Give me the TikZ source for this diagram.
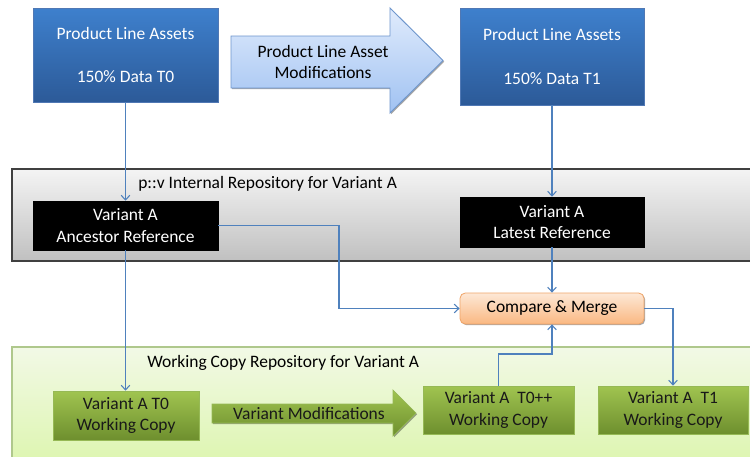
\documentclass[tikz,border=0pt]{standalone}
\usepackage{fontspec}
\setmainfont{Carlito}
\usetikzlibrary{arrows.meta,shadows}
\definecolor{cblue}{RGB}{79,129,189}
\definecolor{bluetop}{RGB}{62,128,205}
\definecolor{bluebot}{RGB}{44,90,152}
\definecolor{blueedge}{RGB}{80,120,180}
\definecolor{arrtop}{RGB}{224,235,252}
\definecolor{arrbot}{RGB}{160,194,242}
\definecolor{arredge}{RGB}{110,150,205}
\definecolor{graytop}{RGB}{244,244,244}
\definecolor{graybot}{RGB}{192,192,192}
\definecolor{grayedge}{RGB}{64,64,64}
\definecolor{orgtop}{RGB}{253,232,214}
\definecolor{orgbot}{RGB}{250,184,130}
\definecolor{orgedge}{RGB}{240,165,105}
\definecolor{gbandtop}{RGB}{242,249,230}
\definecolor{gbandbot}{RGB}{218,245,168}
\definecolor{gbandedge}{RGB}{175,200,140}
\definecolor{gtop}{RGB}{160,196,80}
\definecolor{gbot}{RGB}{110,143,46}
\definecolor{gedge}{RGB}{150,185,85}
\definecolor{gtext}{RGB}{25,25,25}
\begin{document}
\begin{tikzpicture}[x=0.75pt,y=-0.75pt,
  lbl/.style={font=\fontsize{13.1}{16}\selectfont, align=center, inner sep=0pt},
  shade1/.style={drop shadow={shadow xshift=0.9pt,shadow yshift=-0.9pt,opacity=0.35,fill=black}},
  bluebox/.style={lbl, draw=blueedge, line width=0.6pt, top color=bluetop, bottom color=bluebot, text=white, shade1},
  blackbox/.style={lbl, draw=black, fill=black, text=white, shade1},
  orgbox/.style={lbl, draw=orgedge, line width=0.6pt, rounded corners=4pt, top color=orgtop, bottom color=orgbot, text=black, shade1},
  greenbox/.style={lbl, draw=gedge, line width=0.5pt, top color=gtop, bottom color=gbot, text=gtext, shade1},
  bigarrow/.style={draw=arredge, line width=0.7pt, top color=arrtop, bottom color=arrbot, shade1},
  grarrow/.style={draw=gedge, line width=0.5pt, top color=gtop, bottom color=gbot, shade1},
  conn/.style={draw=cblue, line width=0.8pt, -{Straight Barb[length=3.5pt,width=6.5pt]}},
  connl/.style={draw=cblue, line width=0.8pt}
]
\useasboundingbox (0,0) rectangle (750,457);
\fill[white] (0,0) rectangle (750,457);
\begin{scope}
  \clip (0,0) rectangle (750,457);
  \path[draw=grayedge, line width=0.8pt, top color=graytop, bottom color=graybot] (12,169) rectangle (770,261);
  \path[draw=gbandedge, line width=0.8pt, top color=gbandtop, bottom color=gbandbot] (12,347) rectangle (770,480);
\end{scope}

% top row
\node[bluebox, minimum width=185*0.75pt, minimum height=94*0.75pt] (top0) at (125.5,55)
  {\fontsize{13.1}{16.5}\selectfont Product Line Assets\\[16.5pt]150\% Data T0};
\node[bluebox, minimum width=184*0.75pt, minimum height=97*0.75pt] (top1) at (552,56.5)
  {\fontsize{13.1}{16.5}\selectfont Product Line Assets\\[16.5pt]150\% Data T1};
\path[bigarrow] (231,36) -- (390,36) -- (390,8) -- (443,60.5) -- (390,113) -- (390,88) -- (231,88) -- cycle;
\node[lbl] (plam) at (323,62) {Product Line Asset\\Modifications};

% internal repository
\node[lbl, anchor=west] (intlbl) at (138,184) {p::v Internal Repository for Variant A};
\node[blackbox, minimum width=185*0.75pt, minimum height=49*0.75pt] (anc) at (125.5,225.5) {Variant A\\Ancestor Reference};
\node[blackbox, minimum width=184*0.75pt, minimum height=50*0.75pt] (lat) at (552,222) {Variant A\\Latest Reference};

% compare & merge
\node[orgbox, minimum width=184*0.75pt, minimum height=31*0.75pt] (cmp) at (552,308.5) {Compare \& Merge};

% working copy repository
\node[lbl, anchor=west] (wclbl) at (147,363) {Working Copy Repository for Variant A};
\node[greenbox, minimum width=146*0.75pt, minimum height=49*0.75pt] (wc0) at (126,415.5) {Variant A T0\\Working Copy};
\path[grarrow] (212,404) -- (393,404) -- (393,390) -- (416,413) -- (393,436) -- (393,423) -- (212,423) -- cycle;
\node[lbl, text=gtext] (vmod) at (309,413) {Variant Modifications};
\node[greenbox, minimum width=151*0.75pt, minimum height=48*0.75pt] (wcpp) at (498.5,410) {Variant A\ \ T0++\\Working Copy};
\node[greenbox, minimum width=150*0.75pt, minimum height=48*0.75pt] (wc1) at (673,410) {Variant A\ \ T1\\Working Copy};

% connectors
\coordinate (k1) at (339,225.5);
\coordinate (k2) at (552,354);
\draw[conn] (top0.south) -- (anc.north);
\draw[conn] (top1.south) -- (lat.north);
\draw[conn] (anc.south) -- (anc.south |- wc0.north);
\draw[conn] (anc.east) -- (k1) |- (cmp.west);
\draw[conn] (lat.south) -- (cmp.north);
\draw[conn] (wcpp.north) |- (k2) -- (cmp.south);
\draw[conn] (cmp.east) -| (wc1.north);
\end{tikzpicture}
\end{document}
